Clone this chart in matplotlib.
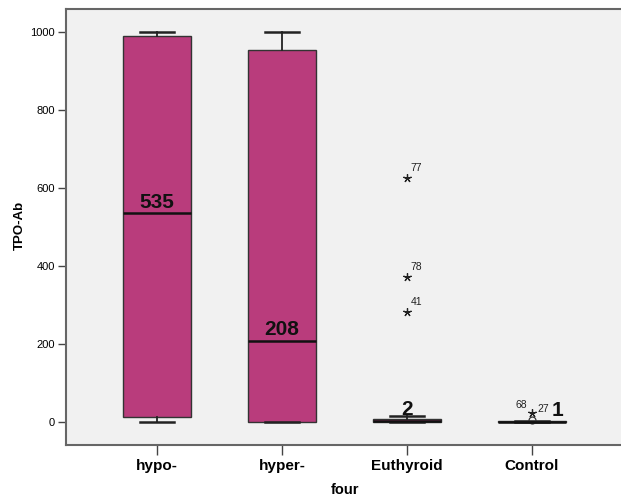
import matplotlib.pyplot as plt

plt.rcParams['font.family'] = ['Liberation Sans', 'DejaVu Sans']

# groupes et statistiques des boîtes
groupes = ["hypo-", "hyper-", "Euthyroid", "Control"]
medianes = [535, 208, 2, 1]
q1 = [12, 1, 0, 0]
q3 = [990, 955, 8, 2]
moust_bas = [0, 0, 0, 0]
moust_haut = [1000, 1000, 16, 2]

# valeurs extrêmes (*) et atypiques (o) avec leur numéro de cas
extremes_eu = [626, 372, 282]
cas_eu = ["77", "78", "41"]
extremes_ctrl = [23]
atypiques_ctrl = [5]

fig = plt.figure(figsize=(6.21, 5.01), dpi=100)
ax = fig.add_axes([0.1063, 0.1118, 0.8937, 0.8702])
ax.set_facecolor("#f1f1f1")

stats = []
for i, nom in enumerate(groupes):
    stats.append(dict(label=nom, med=medianes[i], q1=q1[i], q3=q3[i],
                      whislo=moust_bas[i], whishi=moust_haut[i], fliers=[]))

pos = [1, 2, 3, 4]
ax.bxp(stats, positions=pos, widths=0.545, patch_artist=True, showfliers=False,
       boxprops=dict(facecolor="#b93c7c", edgecolor="#333333", linewidth=1.0),
       medianprops=dict(color="#111111", linewidth=1.8),
       whiskerprops=dict(color="#222222", linewidth=1.3),
       capprops=dict(color="#222222", linewidth=1.8),
       capwidths=0.27)

# valeurs des médianes, posées juste au-dessus du trait
for i, m in enumerate(medianes):
    x = pos[i] if i < 3 else pos[i] + 0.2
    ax.text(x, m + 15, str(m), ha="center", va="baseline",
            fontsize=15, fontweight="bold", color="#111111")

# points extrêmes Euthyroid
for v, c in zip(extremes_eu, cas_eu):
    ax.plot(3, v, marker=(5, 2), color="#222222", markersize=6, markeredgewidth=0.9)
    ax.text(3.03, v + 12, c, fontsize=7.5, color="#222222", ha="left", va="bottom")

# Control : cas 68 et 27 superposés, puis un cas atypique
for v in extremes_ctrl:
    ax.plot(4, v, marker=(5, 2), color="#222222", markersize=6, markeredgewidth=0.9)
    ax.text(3.96, v + 8, "68", fontsize=7.5, color="#222222", ha="right", va="bottom")
    ax.text(4.04, v - 2, "27", fontsize=7.5, color="#222222", ha="left", va="bottom")
for v in atypiques_ctrl:
    ax.plot(4, v, marker="o", markerfacecolor="none", markeredgecolor="#333333",
            markersize=5, markeredgewidth=0.9)

ax.set_xlim(0.272, 4.712)
ax.set_ylim(-59, 1059)
ax.set_yticks([0, 200, 400, 600, 800, 1000])
ax.set_xticks(pos)
ax.set_xticklabels(groupes, fontsize=11, fontweight="bold")
ax.tick_params(axis="y", labelsize=8, length=6, width=1, color="#444444", pad=2)
ax.tick_params(axis="x", length=7, width=1, color="#444444", pad=3)

for cote in ["left", "bottom", "top"]:
    ax.spines[cote].set_color("#666666")
    ax.spines[cote].set_linewidth(1.5)
ax.spines["right"].set_visible(False)

fig.text(20 / 621, 1 - 225 / 501, "TPO-Ab", rotation=90, ha="center", va="center",
         fontsize=9.5, fontweight="bold")
fig.text(345 / 621, 1 - 490 / 501, "four", ha="center", va="center",
         fontsize=10.5, fontweight="bold")

fig.savefig("out.png", dpi=100)
